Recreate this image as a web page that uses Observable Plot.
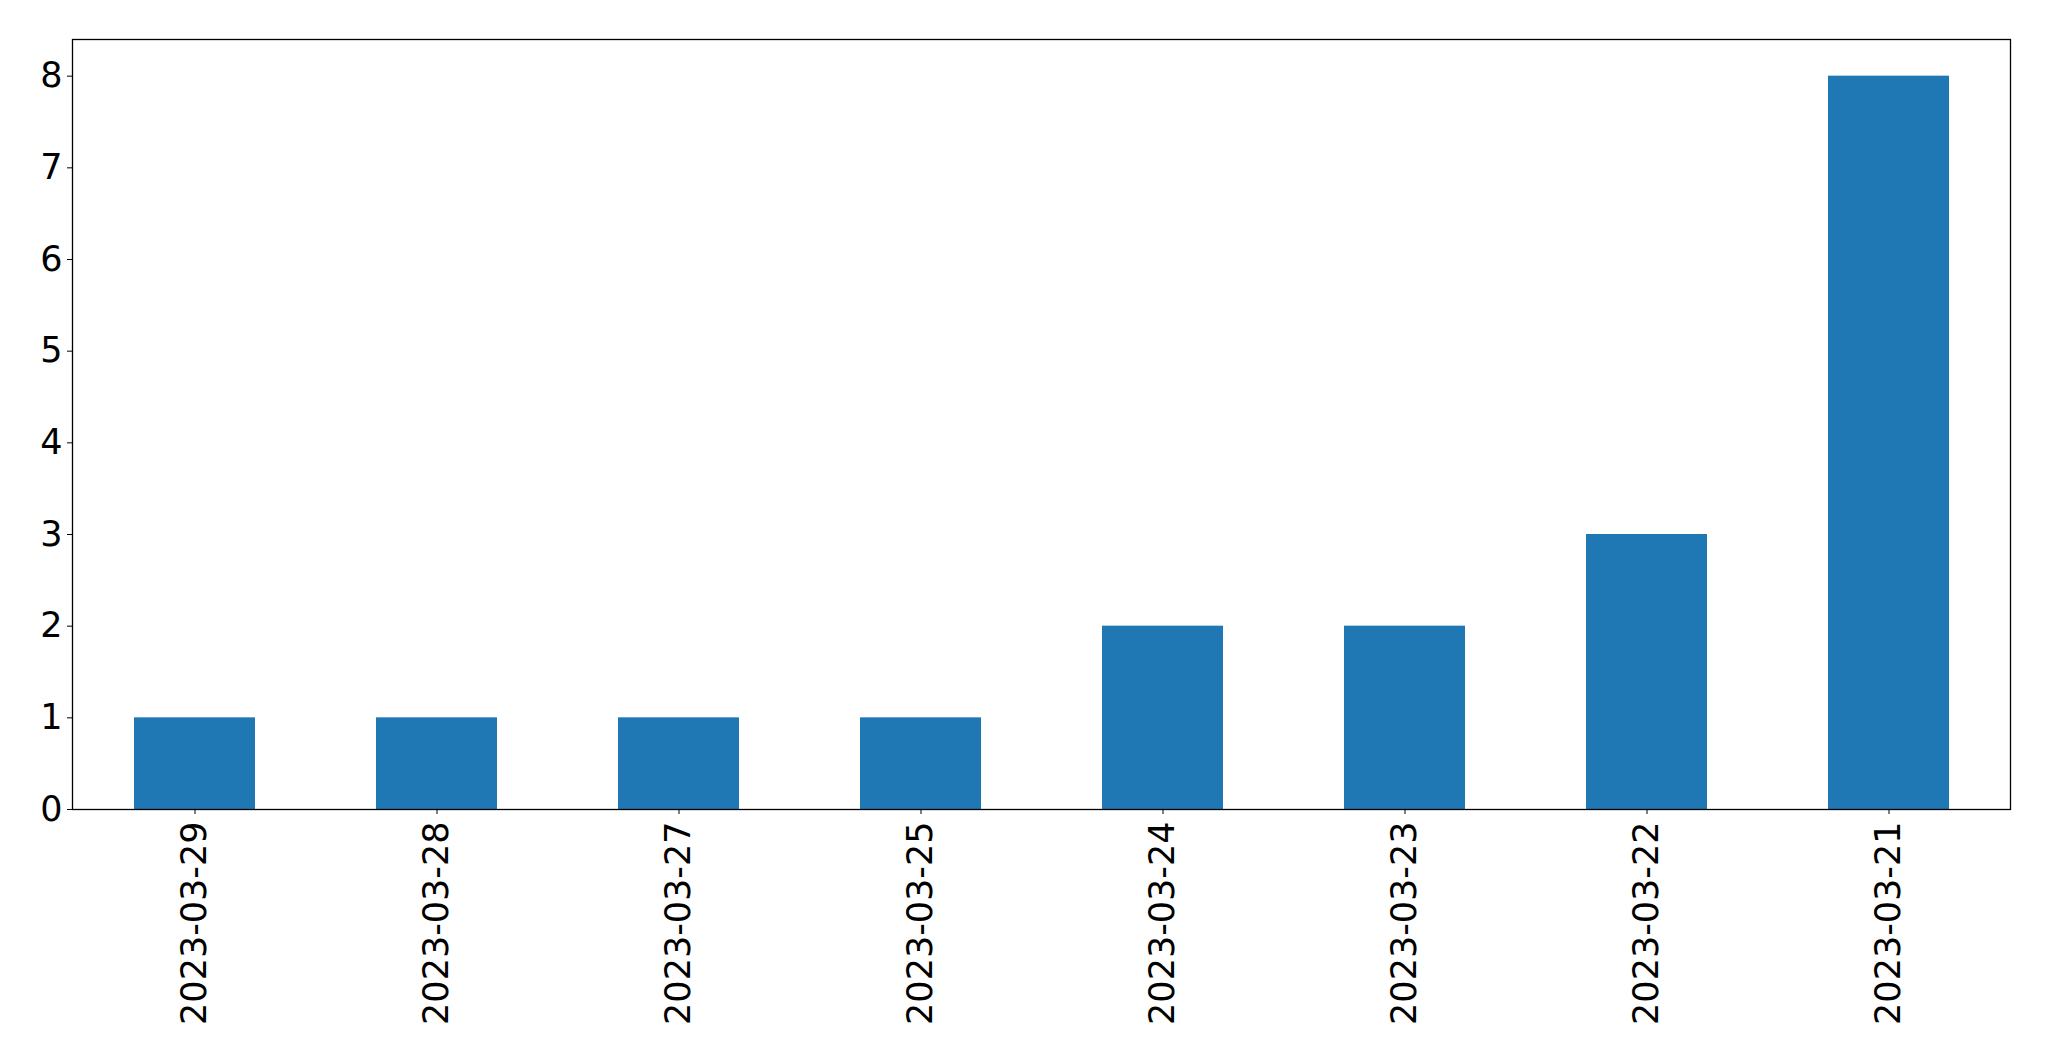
<!DOCTYPE html>
<html>
<head>
<meta charset="utf-8">
<script src="https://cdn.jsdelivr.net/npm/d3@7"></script>
<script src="https://cdn.jsdelivr.net/npm/@observablehq/plot@0.6"></script>
<style>
  html, body { margin: 0; padding: 0; background: #fff; }
</style>
</head>
<body>
<div id="chart"></div>
<script>
const dates = ["2023-03-29", "2023-03-28", "2023-03-27", "2023-03-25", "2023-03-24", "2023-03-23", "2023-03-22", "2023-03-21"];
const counts = [1, 1, 1, 1, 2, 2, 3, 8];
const yTicks = [0, 1, 2, 3, 4, 5, 6, 7, 8];

const data = dates.map((d, i) => ({date: d, count: counts[i]}));

const chart = Plot.plot({
  width: 2049,
  height: 1061,
  marginLeft: 72,
  marginTop: 39,
  marginRight: 39,
  marginBottom: 252,
  style: {fontFamily: "DejaVu Sans", fontSize: "35px", color: "#000", background: "#fff"},
  x: {domain: dates, paddingInner: 0.5, paddingOuter: 0.25, label: null},
  y: {domain: [0, 8.4], label: null},
  marks: [
    Plot.barY(data, {x: "date", y: "count", fill: "#1f77b4"}),
    Plot.axisY({ticks: yTicks, tickSize: 5, tickPadding: 5, tickFormat: d3.format("d"), label: null, fontSize: 35}),
    Plot.axisX({tickSize: 5, tickPadding: 7, tickRotate: -90, label: null, fontSize: 35}),
    Plot.frame({stroke: "#000", strokeWidth: 1.3})
  ]
});
document.getElementById("chart").appendChild(chart);
</script>
</body>
</html>
